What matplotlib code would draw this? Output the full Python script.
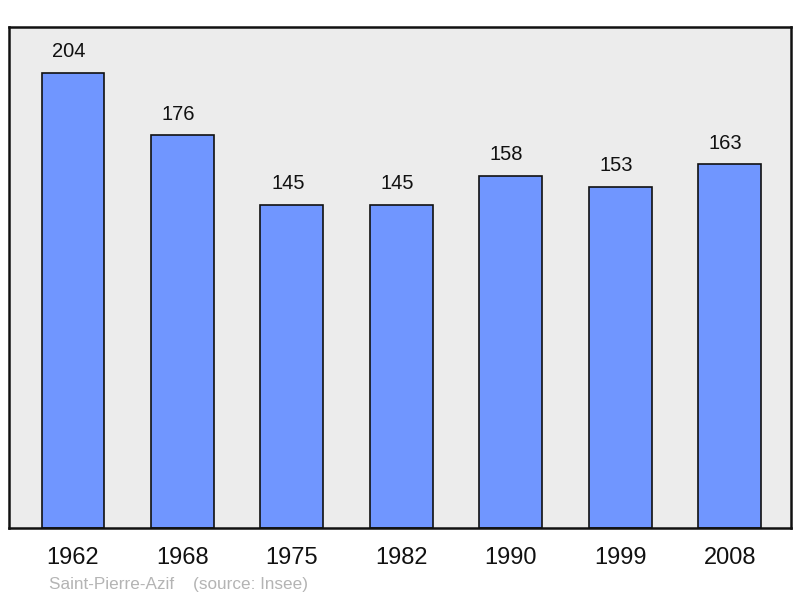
import matplotlib
matplotlib.use("Agg")
import matplotlib.pyplot as plt

years = ["1962", "1968", "1975", "1982", "1990", "1999", "2008"]
population = [204, 176, 145, 145, 158, 153, 163]

plt.rcParams['font.family'] = ['Liberation Sans', 'DejaVu Sans']

fig = plt.figure(figsize=(8, 5.98), dpi=100)
ax = fig.add_axes([9/800, 1-528/598, 782/800, 501/598])
ax.set_facecolor('#ececec')
x = list(range(len(years)))
ax.bar(x, population, width=0.575, color='#7096ff', edgecolor='#111111', linewidth=1.2, zorder=2)
for xi, v in zip(x, population):
    ax.annotate(str(v), (xi, v), xytext=(-3, 8.5), textcoords='offset points',
                ha='center', va='bottom', fontsize=14.5, color='#111111')
ax.set_xlim(-0.585, 6.56)
ax.set_ylim(0, 224.6)
ax.set_yticks([])
ax.set_xticks(x)
ax.set_xticklabels(years, fontsize=17, color='#111111')
ax.tick_params(axis='x', length=0, pad=13.5)
for s in ax.spines.values():
    s.set_linewidth(1.8)
    s.set_color('#111111')
fig.text(49/800, 1-584/598, "Saint-Pierre-Azif    (source: Insee)", fontsize=12.3,
         color='#b4b4b4', ha='left', va='center')
fig.savefig("out.png", dpi=100)
